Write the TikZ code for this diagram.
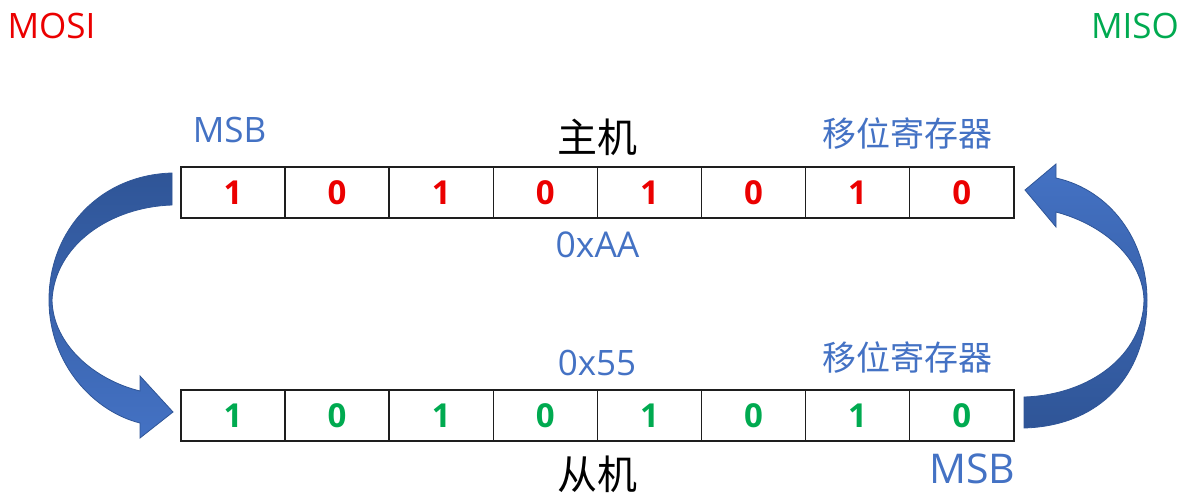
\documentclass[tikz,border=0pt]{standalone}
\usepackage{fontspec}
\setmainfont{Open Sans}
\newfontfamily\cjk{Noto Sans CJK SC}
\usetikzlibrary{positioning}
\definecolor{mred}{RGB}{235,0,0}
\definecolor{mgreen}{RGB}{0,170,80}
\definecolor{mblue}{RGB}{68,114,196}
\definecolor{dblue}{RGB}{47,85,151}
\definecolor{cellline}{RGB}{30,30,30}
\tikzset{
  cell/.style={draw=cellline, line width=1.5pt, minimum width=104.1pt, minimum height=51pt, inner sep=0pt, font=\fontsize{33}{33}\selectfont\bfseries},
  lbl/.style={inner sep=0pt, anchor=center},
  bigarrow/.style={draw=dblue, line width=0.8pt},
}
\begin{document}
\begin{tikzpicture}[x=1pt,y=-1pt]
\useasboundingbox (0,0) rectangle (1184,497);
% registers
\foreach \i/\v in {1/1,2/0,3/1,4/0,5/1,6/0,7/1,8/0}{
  \node[cell, text=mred] (t\i) at ({181+104.1*(\i-0.5)},192.5) {\v};
  \node[cell, text=mgreen] (b\i) at ({181+104.1*(\i-0.5)},415.5) {\v};
}
% labels
\node[lbl, text=mred, font=\fontsize{35}{35}\selectfont] (mosi) at (51.5,26) {MOSI};
\node[lbl, text=mgreen, font=\fontsize{35}{35}\selectfont] (miso) at (1135,26) {MISO};
\node[lbl, text=mblue, font=\fontsize{35}{35}\selectfont] (msbt) at (229.5,130.5) {MSB};
\node[lbl, text=black, font=\fontsize{40}{40}\selectfont\cjk] (host) at (597.5,137) {主机};
\node[lbl, text=mblue, font=\fontsize{34}{34}\selectfont\cjk] (srt) at (907.5,133.5) {移位寄存器};
\node[lbl, text=mblue, font=\fontsize{35.5}{35.5}\selectfont] (aa) at (597.5,245) {0xAA};
\node[lbl, text=mblue, font=\fontsize{35}{35}\selectfont] (x55) at (597,362.5) {0x55};
\node[lbl, text=mblue, font=\fontsize{34}{34}\selectfont\cjk] (srb) at (907.5,357.5) {移位寄存器};
\node[lbl, text=black, font=\fontsize{40}{40}\selectfont\cjk] (slave) at (597.5,474) {从机};
\node[lbl, text=mblue, font=\fontsize{41}{41}\selectfont] (msbb) at (972.5,469) {MSB};
% left curved arrow (MOSI)
\path[bigarrow, top color=dblue, bottom color=mblue]
  (172,173) .. controls (100,175) and (49,230) .. (49,300)
  .. controls (49,365) and (95,412) .. (140,423)
  -- (140,438) -- (173,412) -- (140,376) -- (140,391)
  .. controls (95,380) and (53,345) .. (52,300)
  .. controls (55,245) and (110,207) .. (172,205) -- cycle;
% right curved arrow (MISO)
\path[bigarrow, top color=mblue, bottom color=dblue]
  (1024,428) .. controls (1100,426) and (1147,375) .. (1147,300)
  .. controls (1147,240) and (1110,190) .. (1056,178)
  -- (1056,164) -- (1025,190) -- (1056,227) -- (1056,212)
  .. controls (1105,225) and (1143,260) .. (1144,300)
  .. controls (1143,355) and (1090,395) .. (1024,397) -- cycle;
\end{tikzpicture}
\end{document}
